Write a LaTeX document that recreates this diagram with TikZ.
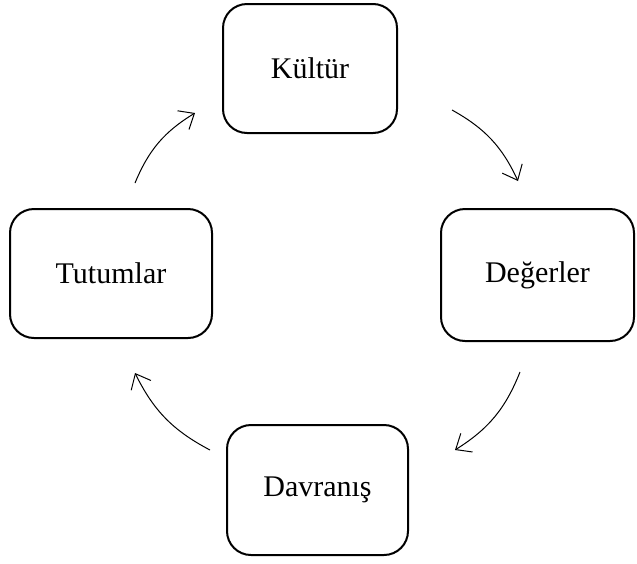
\documentclass[tikz,border=0pt]{standalone}
\usepackage{fontspec}
\setmainfont{Liberation Serif}
\usetikzlibrary{arrows.meta}
\begin{document}
\begin{tikzpicture}[x=1pt,y=-1pt,
  stage/.style={draw, line width=2pt, rounded corners=24pt, align=center,
    font=\fontsize{30}{36}\selectfont, inner sep=0pt},
  flow/.style={line width=1pt, -{Straight Barb[length=13pt,width=22pt,line width=1pt]}, bend left=18}]
  \useasboundingbox (0,0) rectangle (637,563);
  % the four stages of the cycle
  \node[stage, minimum width=174pt, minimum height=129pt] (kultur) at (310,68.5) {Kültür};
  \node[stage, minimum width=193pt, minimum height=132pt] (degerler) at (537.5,275) {Değerler};
  \node[stage, minimum width=202pt, minimum height=129pt] (tutumlar) at (111,273.5) {Tutumlar};
  \node[stage, minimum width=181pt, minimum height=130pt] (davranis) at (317.5,490) {Davranış};
  % arrow end points between neighbouring stages
  \coordinate (a1) at (452,110);  \coordinate (b1) at (518,181);
  \coordinate (a2) at (520,372);  \coordinate (b2) at (455,450);
  \coordinate (a3) at (210,450);  \coordinate (b3) at (135,373);
  \coordinate (a4) at (135,183);  \coordinate (b4) at (195,113);
  \draw[flow] (a1) to (b1);
  \draw[flow] (a2) to (b2);
  \draw[flow] (a3) to (b3);
  \draw[flow] (a4) to (b4);
\end{tikzpicture}
\end{document}
